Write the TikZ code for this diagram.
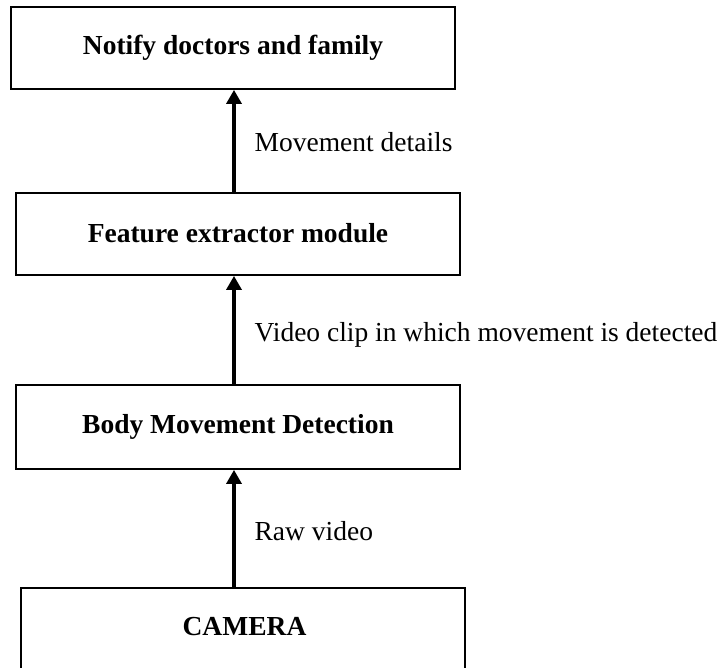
\documentclass[tikz,border=0pt]{standalone}
\usepackage{fontspec}
\setmainfont{Liberation Serif}
\usetikzlibrary{arrows.meta}
\begin{document}
\begin{tikzpicture}[x=1pt,y=-1pt,
  box/.style={draw=black,line width=1.8pt,minimum width=444pt,minimum height=82pt,inner sep=0pt,
    font=\fontsize{27.5}{33}\selectfont\bfseries},
  arr/.style={line width=3.3pt,-{Triangle[length=14pt,width=15pt]}},
  lbl/.style={right,inner sep=0pt,xshift=19pt,font=\fontsize{27.5}{33}\selectfont}]
\useasboundingbox (0,0) rectangle (723,668);
\clip (0,0) rectangle (723,668);
\node[box] (notify) at (233,48) {\raisebox{3pt}{Notify doctors and family}};
\node[box] (feature) at (238,234) {\raisebox{3pt}{Feature extractor module}};
\node[box,minimum height=84pt] (body) at (238,427) {\raisebox{4pt}{Body Movement Detection}};
\node[box] (camera) at (243,629) {\raisebox{5pt}{\hspace{3pt}CAMERA}};
\draw[arr] ([xshift=-4pt]feature.north) -- node[lbl,yshift=-1pt] {Movement details} ([xshift=1pt]notify.south);
\draw[arr] ([xshift=-4pt]body.north) -- node[lbl,yshift=-5pt] {Video clip in which movement is detected} ([xshift=-4pt]feature.south);
\draw[arr] ([xshift=-9pt]camera.north) -- node[lbl,yshift=-3pt] {Raw video} ([xshift=-4pt]body.south);
\end{tikzpicture}
\end{document}
